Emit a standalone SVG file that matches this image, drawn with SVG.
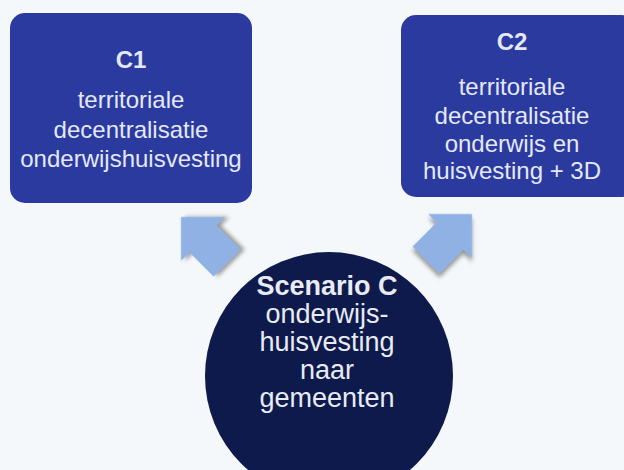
<svg xmlns="http://www.w3.org/2000/svg" width="624" height="470" viewBox="0 0 624 470">
<defs>
<filter id="sh" x="-30%" y="-30%" width="160%" height="160%">
<feDropShadow dx="3" dy="3" stdDeviation="2" flood-color="#555" flood-opacity="0.6"/>
</filter>
<style>
.box{fill:#2a3a9e;}
.circ{fill:#0e1a4b;}
.arr{fill:#8fb1e3;filter:url(#sh);}
.t{font-family:"Liberation Sans",Arial,sans-serif;fill:#ffffff;text-anchor:middle;}
.h{font-weight:bold;}
.bt{font-size:24px;fill:#e4e8f6;}
.ct{font-size:27px;fill:#e8ebf4;}
</style>
</defs>
<rect width="624" height="470" fill="#f5f8fb"/>
<g id="connectors">
<polygon class="arr" transform="translate(181,217) rotate(-45)" points="0,0 31,31 19,31 19,65 -19,65 -19,31 -31,31"/>
<polygon class="arr" transform="translate(472,214) rotate(45)" points="0,0 31,31 19,31 19,65 -19,65 -19,31 -31,31"/>
</g>
<g id="c1">
<rect class="box" x="10" y="13" width="242" height="190" rx="15"/>
<text class="t bt h" x="131" y="68">C1</text>
<text class="t bt" x="131" y="108">territoriale</text>
<text class="t bt" x="131" y="138">decentralisatie</text>
<text class="t bt" x="131" y="167">onderwijshuisvesting</text>
</g>
<g id="c2">
<rect class="box" x="401" y="15" width="235" height="182" rx="15"/>
<text class="t bt h" x="512" y="50">C2</text>
<text class="t bt" x="512" y="95">territoriale</text>
<text class="t bt" x="512" y="124">decentralisatie</text>
<text class="t bt" x="512" y="152">onderwijs en</text>
<text class="t bt" x="512" y="179">huisvesting + 3D</text>
</g>
<g id="scenario">
<circle class="circ" cx="329" cy="376" r="124"/>
<text class="t ct h" x="327" y="295">Scenario C</text>
<text class="t ct" x="327" y="323">onderwijs-</text>
<text class="t ct" x="327" y="351">huisvesting</text>
<text class="t ct" x="327" y="379">naar</text>
<text class="t ct" x="327" y="407">gemeenten</text>
</g>
</svg>
